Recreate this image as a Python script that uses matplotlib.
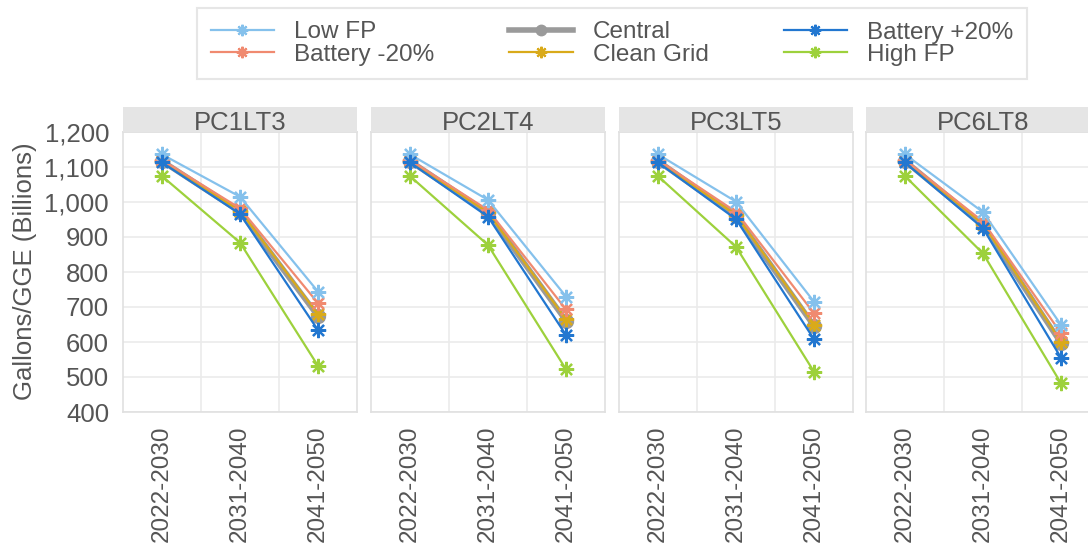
import numpy as np
import matplotlib.pyplot as plt

plt.rcParams['font.family'] = ['Liberation Sans', 'DejaVu Sans']

panels = ['PC1LT3', 'PC2LT4', 'PC3LT5', 'PC6LT8']
periods = ['2022-2030', '2031-2040', '2041-2050']
scenarios = ['Low FP', 'Battery -20%', 'Central', 'Clean Grid', 'Battery +20%', 'High FP']

# values per panel, one row per period (2022, 2031, 2041)
low_fp = [[1136, 1015, 744], [1136, 1006, 730], [1136, 1001, 715], [1136, 971, 649]]
battery_m20 = [[1120, 982, 711], [1120, 977, 693], [1120, 972, 682], [1120, 944, 625]]
central = [[1117, 972, 674], [1117, 968, 661], [1117, 960, 646], [1117, 934, 597]]
clean_grid = [[1117, 975, 679], [1117, 970, 665], [1117, 963, 650], [1117, 938, 601]]
battery_p20 = [[1113, 966, 634], [1113, 958, 620], [1113, 951, 608], [1113, 925, 555]]
high_fp = [[1074, 884, 532], [1074, 877, 522], [1074, 872, 515], [1074, 853, 482]]

series = {
    'Low FP': low_fp,
    'Battery -20%': battery_m20,
    'Central': central,
    'Clean Grid': clean_grid,
    'Battery +20%': battery_p20,
    'High FP': high_fp,
}
colors = {
    'Low FP': '#85c1ec',
    'Battery -20%': '#f08a70',
    'Central': '#9a9a9a',
    'Clean Grid': '#d9aa1a',
    'Battery +20%': '#2277d0',
    'High FP': '#9dd13c',
}
draw_order = ['Central', 'High FP', 'Clean Grid', 'Battery -20%', 'Low FP', 'Battery +20%']

W, H = 1088, 557
fig = plt.figure(figsize=(W / 100, H / 100), dpi=100)
text_col = '#555555'

lefts = [123, 371, 619, 866]
pw = 234
top, bottom = 132, 412
strip_h = 25

handles = {}
x = np.arange(len(periods))
for k, (name, left) in enumerate(zip(panels, lefts)):
    ax = fig.add_axes([left / W, 1 - bottom / H, pw / W, (bottom - top) / H])
    for s in draw_order:
        vals = series[s][k]
        if s == 'Central':
            h, = ax.plot(x, vals, color=colors[s], lw=4, marker='o', ms=10, zorder=2, label=s)
        else:
            h, = ax.plot(x, vals, color=colors[s], lw=1.6, marker=(8, 2, 0), ms=11,
                         mew=1.6, zorder=3, label=s)
        handles[s] = h
    ax.set_xlim(-0.5, 2.5)
    ax.set_ylim(400, 1200)
    ax.set_yticks(np.arange(400, 1201, 100))
    ax.set_xticks([0.5, 1.5])
    ax.set_xticklabels([])
    ax.grid(True, color='#ebebeb', lw=1.2)
    ax.set_axisbelow(True)
    for sp in ax.spines.values():
        sp.set_color('#e0e0e0')
        sp.set_linewidth(1.2)
    ax.tick_params(length=0, labelsize=18.5, colors=text_col)
    for xi, p in zip(x, periods):
        ax.text(xi, -0.05, p, transform=ax.get_xaxis_transform(), rotation=90,
                ha='center', va='top', fontsize=17.5, color=text_col)
    if k == 0:
        ax.set_yticklabels([f'{v:,}' for v in range(400, 1201, 100)])
        ax.tick_params(axis='y', pad=10)
    else:
        ax.set_yticklabels([])

    sax = fig.add_axes([left / W, 1 - top / H, pw / W, strip_h / H])
    sax.set_facecolor('#e5e5e5')
    sax.set_xticks([])
    sax.set_yticks([])
    for sp in sax.spines.values():
        sp.set_visible(False)
    sax.text(0.5, 0.08, name, ha='center', va='baseline', fontsize=18.5, color=text_col,
             transform=sax.transAxes)

fig.text(25 / W, 1 - 271 / H, 'Gallons/GGE (Billions)', rotation=90, ha='center',
         va='center', fontsize=18.5, color=text_col)

leg = fig.legend([handles[s] for s in scenarios], scenarios, loc='center',
                 bbox_to_anchor=(612 / W, 1 - 43.5 / H), ncol=3, fontsize=17.5,
                 frameon=True, fancybox=False, handlelength=2.6, handletextpad=0.82,
                 columnspacing=3.1, labelspacing=0.0, borderpad=0.55, markerscale=0.75)
leg.get_frame().set_edgecolor('#e0e0e0')
leg.get_frame().set_linewidth(1.5)
for t in leg.get_texts():
    t.set_color(text_col)

fig.savefig('out.png', dpi=100)
